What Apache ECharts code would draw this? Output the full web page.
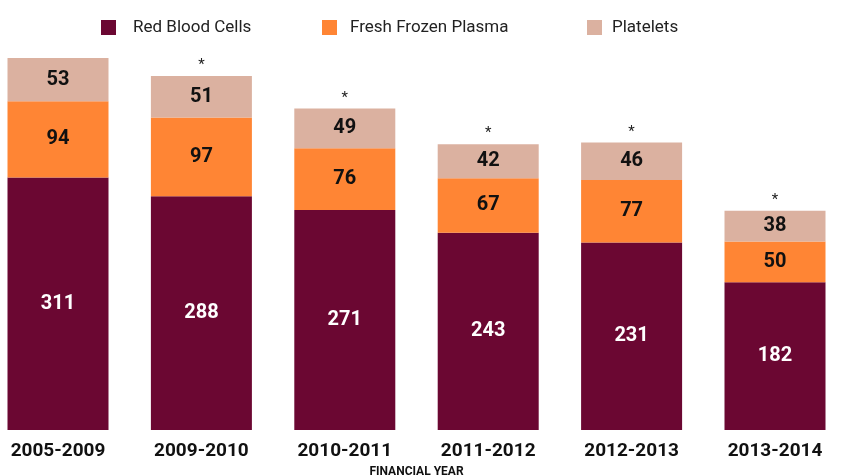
<!DOCTYPE html>
<html><head><meta charset="utf-8">
<script src="https://cdn.jsdelivr.net/npm/echarts@6/dist/echarts.min.js"></script>
<style>html,body{margin:0;padding:0;background:#fff}#c{width:845px;height:476px}</style>
</head><body><div id="c"></div>
<script>
const categories = ['2005-2009','2009-2010','2010-2011','2011-2012','2012-2013','2013-2014'];
const redBloodCells = [311,288,271,243,231,182];
const freshFrozenPlasma = [94,97,76,67,77,50];
const platelets = [53,51,49,42,46,38];
const asterisks = ['','*','*','*','*','*'];
const seriesNames = ['Red Blood Cells','Fresh Frozen Plasma','Platelets'];

const FONT = "Roboto,'Liberation Sans',sans-serif";
const chart = echarts.init(document.getElementById('c'));
const inside = (color) => ({show:true, position:'inside', color, fontSize:20, fontWeight:'bold', fontFamily:FONT});
const legendItem = (left, name, pad) => ({left, top:14, itemWidth:15, itemHeight:15, icon:'rect', itemGap:0,
  data:[name], selectedMode:false,
  textStyle:{fontSize:17, color:'#222', fontFamily:FONT, padding:[0,0,0,pad]}});
chart.setOption({
  animation:false,
  color:['#6B0732','#FF8534','#DBB1A0'],
  legend:[
    legendItem(96, seriesNames[0], 12),
    legendItem(317, seriesNames[1], 8),
    legendItem(582, seriesNames[2], 5)
  ],
  grid:{left:58, right:70, top:24, bottom:46, outerBoundsMode:'none', containLabel:false},
  xAxis:{type:'category', boundaryGap:false, data:categories, axisLine:{show:false}, axisTick:{show:false},
    axisLabel:{fontSize:19, fontWeight:'bold', color:'#111', fontFamily:FONT, margin:12},
    name:'FINANCIAL YEAR', nameLocation:'middle', nameGap:32,
    nameTextStyle:{fontSize:12, fontWeight:'bold', color:'#111', fontFamily:FONT}},
  yAxis:{type:'value', min:0, max:500, show:false, splitLine:{show:false}},
  series:[
    {name:seriesNames[0], type:'bar', stack:'s', barWidth:101, data:redBloodCells, label:inside('#fff')},
    {name:seriesNames[1], type:'bar', stack:'s', data:freshFrozenPlasma, label:inside('#111')},
    {name:seriesNames[2], type:'bar', stack:'s', data:platelets, label:inside('#111')},
    {name:'note', type:'bar', stack:'s', data:asterisks.map(()=>0),
      label:{show:true, position:'top', distance:3, fontSize:15, color:'#222', fontFamily:FONT,
        formatter:(p)=>asterisks[p.dataIndex]}}
  ]
});
</script></body></html>
